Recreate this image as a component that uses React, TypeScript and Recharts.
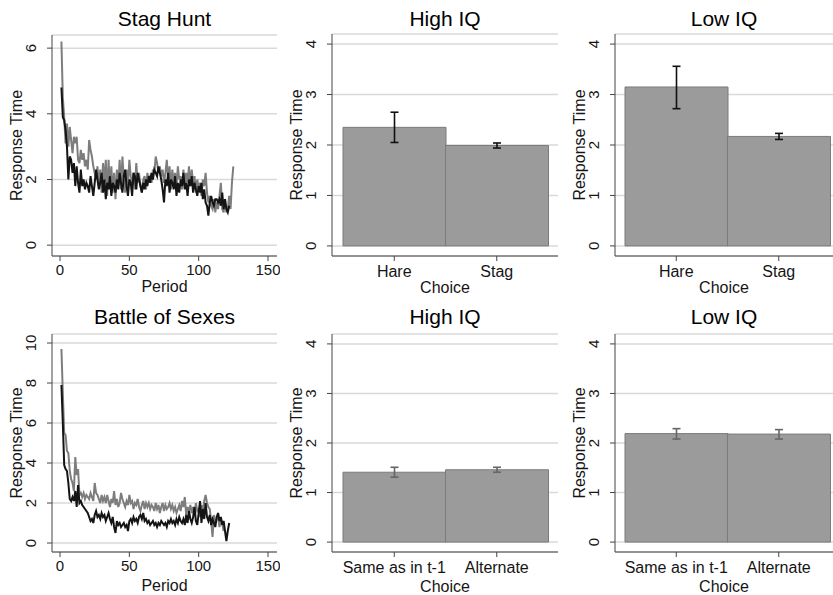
import React from 'react';
import { LineChart, Line, BarChart, Bar, ErrorBar, XAxis, YAxis, CartesianGrid } from 'recharts';

// mean response time per period, black = High IQ, gray = Low IQ
const stagHuntHighIQ = [
  4.8, 3.9, 3.8, 3.5, 3.0, 2.0, 2.7, 2.6, 2.2, 2.5, 1.8, 2.4, 1.9, 1.6, 2.3, 1.8, 2.0, 1.7, 1.9, 1.8,
  1.6, 2.1, 1.8, 1.5, 1.9, 2.3, 2.0, 1.7, 1.9, 2.2, 1.6, 2.0, 1.4, 1.9, 1.7, 2.1, 1.5, 1.9, 1.8, 1.6,
  2.0, 1.7, 2.2, 1.9, 1.6, 2.1, 2.3, 1.8, 1.5, 2.0, 1.9, 1.5, 2.2, 2.1, 1.7, 2.2, 2.0, 1.8, 1.6, 1.9,
  1.7, 2.0, 1.8, 2.1, 1.9, 2.2, 2.0, 2.3, 2.2, 2.1, 2.4, 2.2, 2.0, 1.7, 1.3, 2.0, 1.8, 2.2, 1.6, 2.0,
  1.9, 1.7, 2.1, 1.5, 1.9, 1.6, 2.0, 1.8, 2.2, 1.7, 1.9, 1.5, 2.0, 1.8, 2.1, 1.6, 1.9, 1.7, 1.5, 1.8,
  1.6, 1.9, 1.4, 1.7, 1.3, 1.2, 0.9, 1.3, 1.5, 1.3, 1.2, 1.4, 1.4, 1.3, 1.4, 1.2, 1.6, 1.1, 1.4, 1.1,
  1.0, 1.2,
];
const stagHuntLowIQ = [
  6.2, 4.5, 3.9, 3.1, 3.7, 3.0, 3.6, 3.2, 2.8, 3.3, 3.1, 3.3, 2.6, 2.5, 2.9, 2.6, 2.8, 2.4, 2.6, 2.3,
  3.2, 2.9, 2.7, 2.4, 2.2, 2.0, 2.4, 1.8, 2.3, 1.6, 2.5, 1.9, 2.6, 1.5, 2.6, 1.7, 2.4, 1.6, 2.2, 1.4,
  2.3, 1.8, 2.6, 1.7, 2.7, 2.0, 1.6, 2.3, 1.8, 2.6, 2.1, 1.9, 2.2, 1.7, 2.5, 1.9, 2.2, 1.8, 1.6, 2.0,
  2.1, 1.7, 2.2, 2.0, 2.1, 1.9, 2.3, 2.2, 2.7, 2.5, 2.2, 2.4, 2.1, 2.3, 1.9, 2.2, 2.6, 2.0, 2.4, 1.7,
  2.3, 1.9, 2.2, 1.8, 2.4, 2.0, 2.1, 1.7, 2.3, 1.8, 2.2, 1.9, 2.4, 1.8, 2.3, 1.9, 2.1, 1.6, 2.0, 1.7,
  1.9, 1.5, 2.0, 1.8, 2.2, 1.6, 1.3, 1.5, 1.2, 1.1, 1.4, 1.0, 1.3, 1.1, 1.5, 1.9, 1.1, 1.0, 1.4, 1.0,
  1.1, 1.5, 1.1, 1.9, 2.4,
];
const bosHighIQ = [
  7.9, 6.0, 3.9, 3.7, 3.6, 3.0, 2.2, 2.1, 2.3, 2.1, 2.6, 1.8, 2.9, 2.0, 2.1, 1.9, 1.8, 1.7, 1.6, 1.5,
  1.3, 1.1, 1.2, 1.0, 1.4, 1.6, 1.3, 1.4, 1.2, 1.5, 1.3, 1.4, 1.1, 1.3, 1.5, 1.2, 1.0, 1.3, 0.8, 0.5,
  1.1, 0.9, 1.0, 0.8, 0.9, 1.0, 0.8, 0.9, 0.6, 1.1, 1.2, 1.0, 1.3, 1.1, 1.2, 1.0, 1.3, 1.4, 1.2, 1.5,
  1.1, 1.2, 1.0, 1.1, 0.9, 1.0, 1.1, 0.9, 1.0, 0.8, 1.0, 0.9, 1.1, 1.0, 0.9, 1.0, 0.8, 1.1, 1.0, 1.2,
  1.0, 1.1, 0.9, 1.2, 1.0, 1.3, 1.1, 1.0, 1.2, 0.9, 1.4, 1.0, 1.6, 1.2, 1.0, 1.3, 1.8, 1.1, 0.9, 1.5,
  2.1, 1.0, 1.7, 1.2, 2.0, 1.3, 1.1, 1.4, 0.9, 1.2, 1.0, 0.8, 1.3, 1.5, 1.1, 1.3, 0.9, 1.1, 0.6, 0.1,
  0.6, 1.0,
];
const bosLowIQ = [
  9.7, 7.5, 5.5, 5.4, 4.6, 4.5, 3.6, 3.2, 3.0, 2.6, 4.3, 3.4, 3.7, 2.4, 2.5, 2.3, 2.5, 2.2, 2.4, 2.3,
  2.2, 2.5, 2.3, 2.1, 3.0, 2.5, 2.4, 2.2, 2.0, 2.4, 2.1, 2.3, 2.0, 2.4, 2.1, 1.8, 2.2, 2.0, 2.6, 1.9,
  2.2, 1.8, 2.0, 2.5, 2.2, 2.0, 1.8, 2.1, 1.9, 2.4, 2.0, 2.1, 1.7, 2.0, 1.9, 2.2, 1.8, 1.6, 1.9, 2.1,
  1.7, 2.0, 1.8, 2.0, 1.7, 1.9, 1.8, 1.6, 2.0, 1.7, 1.9, 1.5, 1.8, 2.0, 1.6, 1.9, 1.7, 1.8, 2.0, 1.7,
  1.9, 1.6, 1.8, 1.5, 1.7, 1.9, 1.6, 2.1, 1.8, 2.3, 1.4, 1.8, 1.6, 1.9, 1.5, 1.8, 1.4, 2.0, 1.6, 1.7,
  1.3, 1.9, 1.5, 2.1, 2.4, 2.0, 1.8, 1.7, 1.1, 0.3, 1.4, 1.0, 1.2, 1.3, 0.8, 1.2, 1.0, 0.6,
];

const periodTicks = [0, 50, 100, 150];
const stagTicks = [0, 2, 4, 6];
const bosTicks = [0, 2, 4, 6, 8, 10];
const barTicks = [0, 1, 2, 3, 4];

// bar panels: mean and 95% CI
const stagChoices = ['Hare', 'Stag'];
const stagHighMean = [2.35, 1.99];
const stagHighLo = [2.05, 1.94];
const stagHighHi = [2.65, 2.04];
const stagLowMean = [3.15, 2.17];
const stagLowLo = [2.72, 2.11];
const stagLowHi = [3.56, 2.23];

const bosChoices = ['Same as in t-1', 'Alternate'];
const bosHighMean = [1.41, 1.46];
const bosHighLo = [1.31, 1.41];
const bosHighHi = [1.51, 1.51];
const bosLowMean = [2.19, 2.18];
const bosLowLo = [2.08, 2.08];
const bosLowHi = [2.29, 2.27];

const FONT = '"Liberation Sans", Arial, sans-serif';
const AXIS = '#444';
const GRID = '#d9d9d9';
const INK = '#151515';

function periodRows(black: number[], gray: number[]) {
  const n = Math.max(black.length, gray.length);
  const rows = [];
  for (let i = 0; i < n; i++) {
    rows.push({ period: i + 1, high: black[i], low: gray[i] });
  }
  return rows;
}

function barRows(cats: string[], mean: number[], lo: number[], hi: number[]) {
  return cats.map((c, i) => ({ choice: c, mean: mean[i], err: [mean[i] - lo[i], hi[i] - mean[i]] }));
}

const RotTick = (props: any) => {
  const { x, y, payload } = props;
  return (
    <text x={x} y={y} transform={`rotate(-90, ${x}, ${y})`} textAnchor="middle" fontSize={15} fill={INK}>
      {payload.value}
    </text>
  );
};

const yLabel = (offset: number) => ({
  value: 'Response Time',
  angle: -90,
  position: 'insideLeft' as const,
  offset,
  style: { textAnchor: 'middle', fontSize: 16, fill: INK },
});

function Title({ text, left, width, top }: { text: string; left: number; width: number; top: number }) {
  return (
    <div style={{ position: 'absolute', left, top, width, textAlign: 'center', fontSize: 21, lineHeight: '24px', color: '#000' }}>
      {text}
    </div>
  );
}

function LinePanel(p: {
  left: number; top: number; plotTop: number; xHeight: number; rows: any[];
  domain: [number, number]; ticks: number[]; labelOffset: number;
}) {
  return (
    <div style={{ position: 'absolute', left: p.left, top: p.top }}>
      <LineChart width={280} height={300} data={p.rows} margin={{ top: p.plotTop, right: 3, bottom: 0, left: 0 }}>
        <CartesianGrid vertical={false} stroke={GRID} strokeWidth={1.5} />
        <XAxis
          type="number"
          dataKey="period"
          domain={[-5.8, 156.5]}
          ticks={periodTicks}
          allowDataOverflow
          height={p.xHeight}
          stroke={AXIS}
          tickSize={5}
          tickMargin={3}
          tick={{ fontSize: 15, fill: INK }}
          label={{ value: 'Period', position: 'insideBottom', offset: p.labelOffset, style: { fontSize: 16, fill: INK } }}
        />
        <YAxis
          type="number"
          domain={p.domain}
          ticks={p.ticks}
          allowDataOverflow
          width={52}
          stroke={AXIS}
          tickSize={5}
          tickMargin={11}
          tick={<RotTick />}
          label={yLabel(16)}
        />
        <Line type="linear" dataKey="low" stroke="#7d7d7d" strokeWidth={2} dot={false} isAnimationActive={false} />
        <Line type="linear" dataKey="high" stroke="#141414" strokeWidth={2} dot={false} isAnimationActive={false} />
      </LineChart>
    </div>
  );
}

function BarPanel(p: {
  left: number; top: number; plotTop: number; xHeight: number; rows: any[]; yWidth: number;
  right: number; pad: { left: number; right: number }; errColor: string; labelOffset: number; tickMargin: number;
}) {
  return (
    <div style={{ position: 'absolute', left: p.left, top: p.top }}>
      <BarChart width={280} height={300} data={p.rows} barCategoryGap={0} margin={{ top: p.plotTop, right: p.right, bottom: 0, left: 0 }}>
        <CartesianGrid vertical={false} stroke={GRID} strokeWidth={1.5} />
        <XAxis
          dataKey="choice"
          padding={p.pad}
          height={p.xHeight}
          stroke={AXIS}
          tickSize={5}
          tickMargin={p.tickMargin}
          tick={{ fontSize: 16, fill: INK }}
          interval={0}
          label={{ value: 'Choice', position: 'insideBottom', offset: p.labelOffset, style: { fontSize: 16, fill: INK } }}
        />
        <YAxis
          type="number"
          domain={[-0.2, 4.2]}
          ticks={barTicks}
          allowDataOverflow
          width={p.yWidth}
          stroke={AXIS}
          tickSize={5}
          tickMargin={11}
          tick={<RotTick />}
          label={yLabel(p.yWidth - 36)}
        />
        <Bar dataKey="mean" fill="#9b9b9b" stroke="#7b7b7b" strokeWidth={1} isAnimationActive={false}>
          <ErrorBar dataKey="err" direction="y" width={4} stroke={p.errColor} strokeWidth={1.6} />
        </Bar>
      </BarChart>
    </div>
  );
}

export default function App() {
  return (
    <div style={{ position: 'absolute', left: 0, top: 0, width: 833, height: 595, background: '#fff', fontFamily: FONT, overflow: 'hidden' }}>
      <LinePanel left={0} top={0} plotTop={35} xHeight={44} rows={periodRows(stagHuntHighIQ, stagHuntLowIQ)}
        domain={[-0.33, 6.4]} ticks={stagTicks} labelOffset={8} />
      <LinePanel left={0} top={295} plotTop={39} xHeight={43} rows={periodRows(bosHighIQ, bosLowIQ)}
        domain={[-0.45, 10.45]} ticks={bosTicks} labelOffset={4} />

      <BarPanel left={280} top={0} plotTop={34} xHeight={44} rows={barRows(stagChoices, stagHighMean, stagHighLo, stagHighHi)}
        yWidth={52} right={2} pad={{ left: 11, right: 10 }} errColor="#111" labelOffset={7} tickMargin={5} />
      <BarPanel left={553} top={0} plotTop={34} xHeight={44} rows={barRows(stagChoices, stagLowMean, stagLowLo, stagLowHi)}
        yWidth={62} right={0} pad={{ left: 10, right: 3 }} errColor="#111" labelOffset={7} tickMargin={5} />
      <BarPanel left={280} top={295} plotTop={39} xHeight={43} rows={barRows(bosChoices, bosHighMean, bosHighLo, bosHighHi)}
        yWidth={52} right={2} pad={{ left: 11, right: 10 }} errColor="#666" labelOffset={3} tickMargin={5} />
      <BarPanel left={553} top={295} plotTop={39} xHeight={43} rows={barRows(bosChoices, bosLowMean, bosLowLo, bosLowHi)}
        yWidth={62} right={0} pad={{ left: 10, right: 3 }} errColor="#666" labelOffset={3} tickMargin={5} />

      <Title text="Stag Hunt" left={52} width={225} top={7} />
      <Title text="High IQ" left={332} width={226} top={7} />
      <Title text="Low IQ" left={615} width={218} top={7} />
      <Title text="Battle of Sexes" left={52} width={225} top={305} />
      <Title text="High IQ" left={332} width={226} top={305} />
      <Title text="Low IQ" left={615} width={218} top={305} />
    </div>
  );
}
